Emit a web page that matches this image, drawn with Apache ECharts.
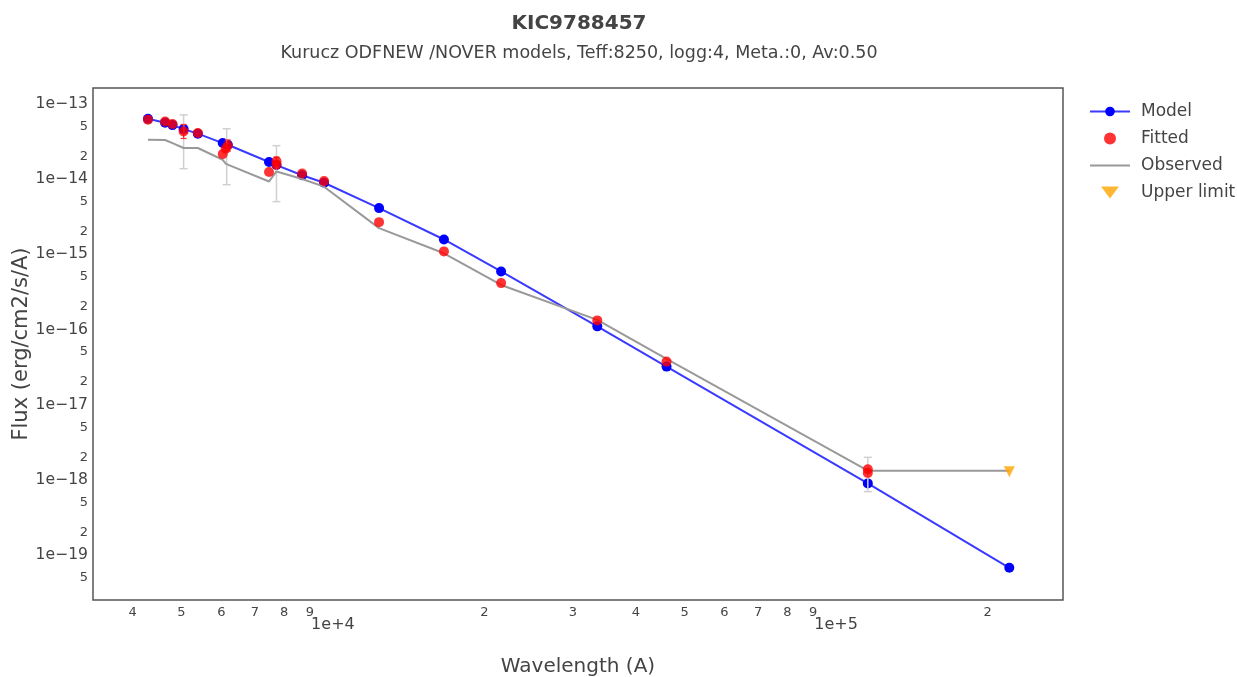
<!DOCTYPE html>
<html>
<head>
<meta charset="utf-8">
<script src="https://cdn.jsdelivr.net/npm/echarts@6/dist/echarts.min.js"></script>
<style>
html,body{margin:0;padding:0;background:#fff;}
#chart{width:1237px;height:677px;}
</style>
</head>
<body>
<div id="chart"></div>
<script>
// ---- Data (wavelength in Angstrom, flux in erg/cm2/s/A) ----
const modelWavelength = [4290, 4640, 4800, 5050, 5390, 6040, 6124, 6181, 7465, 7724, 8685, 9603, 12350, 16620, 21590, 33526, 46028, 115608, 220883];
const modelFlux = [6.3e-14, 5.6e-14, 5.2e-14, 4.6e-14, 4.0e-14, 3.0e-14, 2.9e-14, 2.85e-14, 1.68e-14, 1.53e-14, 1.12e-14, 8.9e-15, 4.1e-15, 1.57e-15, 5.9e-16, 1.10e-16, 3.21e-17, 9.0e-19, 6.8e-20];

const fittedWavelength = [4290, 4640, 4800, 5050, 5390, 6040, 6124, 6181, 7465, 7724, 7724, 8685, 9603, 12350, 16620, 21590, 33526, 46028, 115608, 115608];
const fittedFlux = [6.13e-14, 5.82e-14, 5.37e-14, 4.28e-14, 4.08e-14, 2.14e-14, 2.52e-14, 2.79e-14, 1.24e-14, 1.72e-14, 1.55e-14, 1.18e-14, 9.37e-15, 2.67e-15, 1.09e-15, 4.13e-16, 1.32e-16, 3.74e-17, 1.39e-18, 1.24e-18];

const observedWavelength = [4290, 4640, 4800, 5050, 5390, 6040, 6124, 6181, 7465, 7724, 8685, 9603, 12350, 16620, 21590, 33526, 46028, 115608, 220883];
const observedFlux = [3.32e-14, 3.3e-14, 3.0e-14, 2.58e-14, 2.58e-14, 1.8e-14, 1.6e-14, 1.55e-14, 9.27e-15, 1.26e-14, 1.0e-14, 7.9e-15, 2.22e-15, 1.03e-15, 3.9e-16, 1.34e-16, 4.06e-17, 1.33e-18, 1.33e-18];

// observed error bars: wavelength, low, high
const obsErrWavelength = [5050, 6150, 7724, 115608];
const obsErrLow = [1.37e-14, 8.4e-15, 5.0e-15, 7.0e-19];
const obsErrHigh = [7.1e-14, 4.65e-14, 2.77e-14, 2.0e-18];

// fitted error bars
const fitErrWavelength = [5050, 6181, 7724];
const fitErrLow = [3.45e-14, 2.35e-14, 1.45e-14];
const fitErrHigh = [5.3e-14, 3.3e-14, 1.95e-14];

const upperWavelength = [220883];
const upperFlux = [1.29e-18];

// ---- Tick labels ----
const xTickValues = [4000, 5000, 6000, 7000, 8000, 9000, 10000, 20000, 30000, 40000, 50000, 60000, 70000, 80000, 90000, 100000, 200000];
const xTickLabels = ['4', '5', '6', '7', '8', '9', '1e+4', '2', '3', '4', '5', '6', '7', '8', '9', '1e+5', '2'];
const yTickValues = [1e-13, 5e-14, 2e-14, 1e-14, 5e-15, 2e-15, 1e-15, 5e-16, 2e-16, 1e-16, 5e-17, 2e-17, 1e-17, 5e-18, 2e-18, 1e-18, 5e-19, 2e-19, 1e-19, 5e-20];
const yTickLabels = ['1e\u221213', '5', '2', '1e\u221214', '5', '2', '1e\u221215', '5', '2', '1e\u221216', '5', '2', '1e\u221217', '5', '2', '1e\u221218', '5', '2', '1e\u221219', '5'];

const FONT = 'DejaVu Sans';

function lookup(values, labels, v) {
  let best = 0, bd = Infinity;
  for (let i = 0; i < values.length; i++) {
    const d = Math.abs(Math.log10(values[i]) - Math.log10(v));
    if (d < bd) { bd = d; best = i; }
  }
  return labels[best];
}
function isMajor(lbl) { return lbl.indexOf('e') >= 0; }

function zip(a, b) { return a.map((v, i) => [v, b[i]]); }
function zip3(a, b, c) { return a.map((v, i) => [v, b[i], c[i]]); }

function errRender(color, capW, lw) {
  return function (params, api) {
    const x = api.value(0), lo = api.value(1), hi = api.value(2);
    const p1 = api.coord([x, hi]);
    const p2 = api.coord([x, lo]);
    const st = { stroke: color, lineWidth: lw };
    return {
      type: 'group',
      children: [
        { type: 'line', shape: { x1: p1[0], y1: p1[1], x2: p2[0], y2: p2[1] }, style: st },
        { type: 'line', shape: { x1: p1[0] - capW, y1: p1[1], x2: p1[0] + capW, y2: p1[1] }, style: st },
        { type: 'line', shape: { x1: p2[0] - capW, y1: p2[1], x2: p2[0] + capW, y2: p2[1] }, style: st }
      ]
    };
  };
}

const chart = echarts.init(document.getElementById('chart'), null, { renderer: 'canvas' });
chart.setOption({
  animation: false,
  backgroundColor: '#ffffff',
  textStyle: { fontFamily: FONT },
  title: {
    text: 'KIC9788457',
    subtext: 'Kurucz ODFNEW /NOVER models, Teff:8250, logg:4, Meta.:0, Av:0.50',
    left: 579,
    textAlign: 'center',
    top: 12,
    padding: 0,
    itemGap: 6,
    textStyle: { fontFamily: FONT, fontSize: 20, fontWeight: 'bold', color: '#444', lineHeight: 24 },
    subtextStyle: { fontFamily: FONT, fontSize: 17.5, color: '#444', lineHeight: 22 }
  },
  legend: {
    orient: 'vertical',
    left: 1084,
    top: 98,
    itemWidth: 40,
    itemHeight: 12,
    itemGap: 10,
    textStyle: { fontFamily: FONT, fontSize: 17, color: '#444', padding: [0, 0, 0, 6] },
    data: [
      { name: 'Model' },
      { name: 'Fitted', icon: 'circle' },
      { name: 'Observed', icon: 'path://M0,0 L40,0 L40,2 L0,2 Z', itemStyle: { color: '#999999' } },
      { name: 'Upper limit', icon: 'path://M0,0 L12,0 L6,8 Z' }
    ]
  },
  grid: {
    left: 93, right: 174, top: 88, bottom: 77,
    outerBoundsMode: 'none',
    containLabel: false,
    show: true, borderColor: '#555', borderWidth: 1.5, backgroundColor: '#fff'
  },
  xAxis: {
    type: 'log',
    logBase: 10,
    min: 3336,
    max: 282400,
    name: 'Wavelength (A)',
    nameLocation: 'middle',
    nameGap: 57,
    nameTextStyle: { fontFamily: FONT, fontSize: 20, color: '#444' },
    axisLine: { show: false },
    axisTick: { show: false },
    splitLine: { show: false },
    minorSplitLine: { show: false },
    axisLabel: {
      customValues: xTickValues,
      margin: 4,
      formatter: function (v) {
        const l = lookup(xTickValues, xTickLabels, v);
        return isMajor(l) ? '{maj|' + l + '}' : '{min|' + l + '}';
      },
      rich: {
        maj: { fontFamily: FONT, fontSize: 16, color: '#444', lineHeight: 41 },
        min: { fontFamily: FONT, fontSize: 13, color: '#444', lineHeight: 17 }
      }
    }
  },
  yAxis: {
    type: 'log',
    logBase: 10,
    min: 2.54e-20,
    max: 1.618e-13,
    name: 'Flux (erg/cm2/s/A)',
    nameLocation: 'middle',
    nameRotate: 90,
    nameGap: 61,
    nameMoveOverlap: false,
    nameTextStyle: { fontFamily: FONT, fontSize: 21, color: '#444' },
    axisLine: { show: false },
    axisTick: { show: false },
    splitLine: { show: false },
    minorSplitLine: { show: false },
    axisLabel: {
      customValues: yTickValues,
      margin: 5,
      formatter: function (v) {
        const l = lookup(yTickValues, yTickLabels, v);
        return isMajor(l) ? '{maj|' + l + '}' : '{min|' + l + '}';
      },
      rich: {
        maj: { fontFamily: FONT, fontSize: 15.6, color: '#444' },
        min: { fontFamily: FONT, fontSize: 13, color: '#444' }
      }
    }
  },
  series: [
    {
      name: 'Model',
      type: 'line',
      z: 2,
      data: zip(modelWavelength, modelFlux),
      symbol: 'circle',
      symbolSize: 10,
      itemStyle: { color: '#0000ff' },
      lineStyle: { color: '#3a3aff', width: 2 }
    },
    {
      name: 'Observed',
      type: 'line',
      z: 3,
      data: zip(observedWavelength, observedFlux),
      symbol: 'none',
      showSymbol: false,
      itemStyle: { color: '#999999' },
      lineStyle: { color: '#999999', width: 2 }
    },
    {
      name: 'obsErr',
      type: 'custom',
      z: 3,
      renderItem: errRender('#d0d0d0', 4, 1.5),
      encode: { x: 0, y: [1, 2] },
      data: zip3(obsErrWavelength, obsErrLow, obsErrHigh),
      silent: true
    },
    {
      name: 'fitErr',
      type: 'custom',
      z: 4,
      renderItem: errRender('#ff3030', 3, 1.2),
      encode: { x: 0, y: [1, 2] },
      data: zip3(fitErrWavelength, fitErrLow, fitErrHigh),
      silent: true
    },
    {
      name: 'Fitted',
      type: 'scatter',
      z: 5,
      data: zip(fittedWavelength, fittedFlux),
      symbol: 'circle',
      symbolSize: 10,
      itemStyle: { color: '#ff0000' }
    },
    {
      name: 'Upper limit',
      type: 'scatter',
      z: 6,
      data: zip(upperWavelength, upperFlux),
      symbol: 'triangle',
      symbolRotate: 180,
      symbolSize: 11,
      itemStyle: { color: '#ffa500' }
    }
  ]
});
</script>
</body>
</html>
